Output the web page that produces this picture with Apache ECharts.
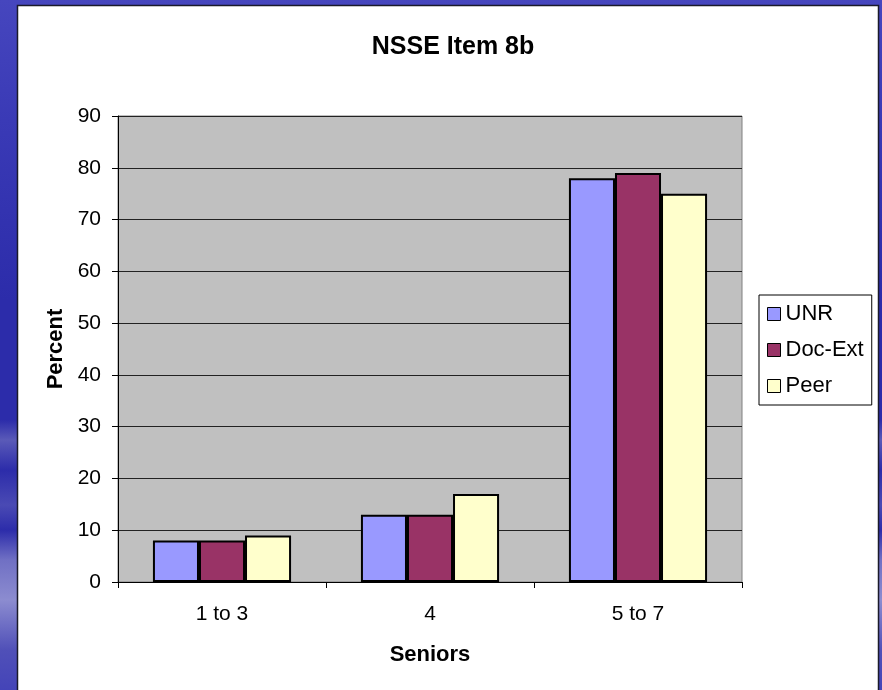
<!DOCTYPE html>
<html>
<head>
<meta charset="utf-8">
<script src="https://cdn.jsdelivr.net/npm/echarts@6/dist/echarts.min.js"></script>
<style>
  html, body { margin: 0; padding: 0; width: 882px; height: 690px; overflow: hidden; }
  body {
    background:
      linear-gradient(to bottom, #4646BE 0px, #3A3AB6 120px, #2C2CAA 300px, #2C2CAA 420px, #5A5AB8 440px, #2C2CAA 470px, #4A4AB4 505px, #2C2CAA 530px, #7070C4 560px, #8C8CD0 600px, #5050B8 650px, #4444B8 690px);
  }
  #chart { position: absolute; left: 0; top: 0; width: 882px; height: 690px; }
</style>
</head>
<body>
<div id="chart"></div>
<script>
const categories = ['1 to 3', '4', '5 to 7'];
const seriesNames = ['UNR', 'Doc-Ext', 'Peer'];
const unrValues = [8, 13, 78];
const docExtValues = [8, 13, 79];
const peerValues = [9, 17, 75];
const colors = ['#9999FF', '#993366', '#FFFFCC'];
const yMin = 0, yMax = 90, yInterval = 10;

const font = 'Liberation Sans, Arial, sans-serif';
const chart = echarts.init(document.getElementById('chart'), null, { renderer: 'canvas' });

const barStyle = (c) => ({ color: c, borderColor: '#000', borderWidth: 2 });

chart.setOption({
  backgroundColor: 'transparent',
  animation: false,
  graphic: [{
    type: 'rect', z: -10, silent: true,
    shape: { x: 17.5, y: 5.5, width: 861, height: 700 },
    style: { fill: '#FFFFFF', stroke: '#1A1A2A', lineWidth: 1.5 }
  }],
  title: {
    text: 'NSSE Item 8b',
    left: 448, top: 30, textAlign: 'center',
    textStyle: { fontFamily: font, fontSize: 25, fontWeight: 'bold', color: '#000' }
  },
  legend: {
    orient: 'vertical', left: 759, top: 295,
    padding: [8, 8], itemGap: 14, itemWidth: 13, itemHeight: 13,
    borderColor: '#000', borderWidth: 1, backgroundColor: '#fff',
    icon: 'rect',
    itemStyle: { borderColor: '#000', borderWidth: 1 },
    textStyle: { fontFamily: font, fontSize: 22, color: '#000' },
    data: seriesNames
  },
  grid: {
    left: 118, right: 140, top: 116, bottom: 108,
    show: true, backgroundColor: '#C0C0C0', borderColor: '#808080', borderWidth: 1
  },
  xAxis: {
    type: 'category', data: categories,
    name: 'Seniors', nameLocation: 'middle', nameGap: 62,
    nameTextStyle: { fontFamily: font, fontSize: 22, fontWeight: 'bold', color: '#000' },
    axisLine: { lineStyle: { color: '#000', width: 1 } },
    axisTick: { show: true, length: 6, lineStyle: { color: '#000' } },
    axisLabel: { fontFamily: font, fontSize: 21, color: '#000', margin: 22 }
  },
  yAxis: {
    type: 'value', min: yMin, max: yMax, interval: yInterval,
    name: 'Percent', nameLocation: 'middle', nameGap: 50, nameRotate: 90,
    nameTextStyle: { fontFamily: font, fontSize: 22, fontWeight: 'bold', color: '#000' },
    axisLine: { show: true, lineStyle: { color: '#000', width: 1 } },
    axisTick: { show: true, length: 6, lineStyle: { color: '#000' } },
    axisLabel: { fontFamily: font, fontSize: 21, color: '#000', margin: 17 },
    splitLine: { show: true, lineStyle: { color: '#222', width: 1 } }
  },
  series: [
    { name: seriesNames[0], type: 'bar', data: unrValues, itemStyle: barStyle(colors[0]), barGap: '0%', barCategoryGap: '33.6%' },
    { name: seriesNames[1], type: 'bar', data: docExtValues, itemStyle: barStyle(colors[1]), barGap: '0%', barCategoryGap: '33.6%' },
    { name: seriesNames[2], type: 'bar', data: peerValues, itemStyle: barStyle(colors[2]), barGap: '0%', barCategoryGap: '33.6%' }
  ]
});
</script>
</body>
</html>
